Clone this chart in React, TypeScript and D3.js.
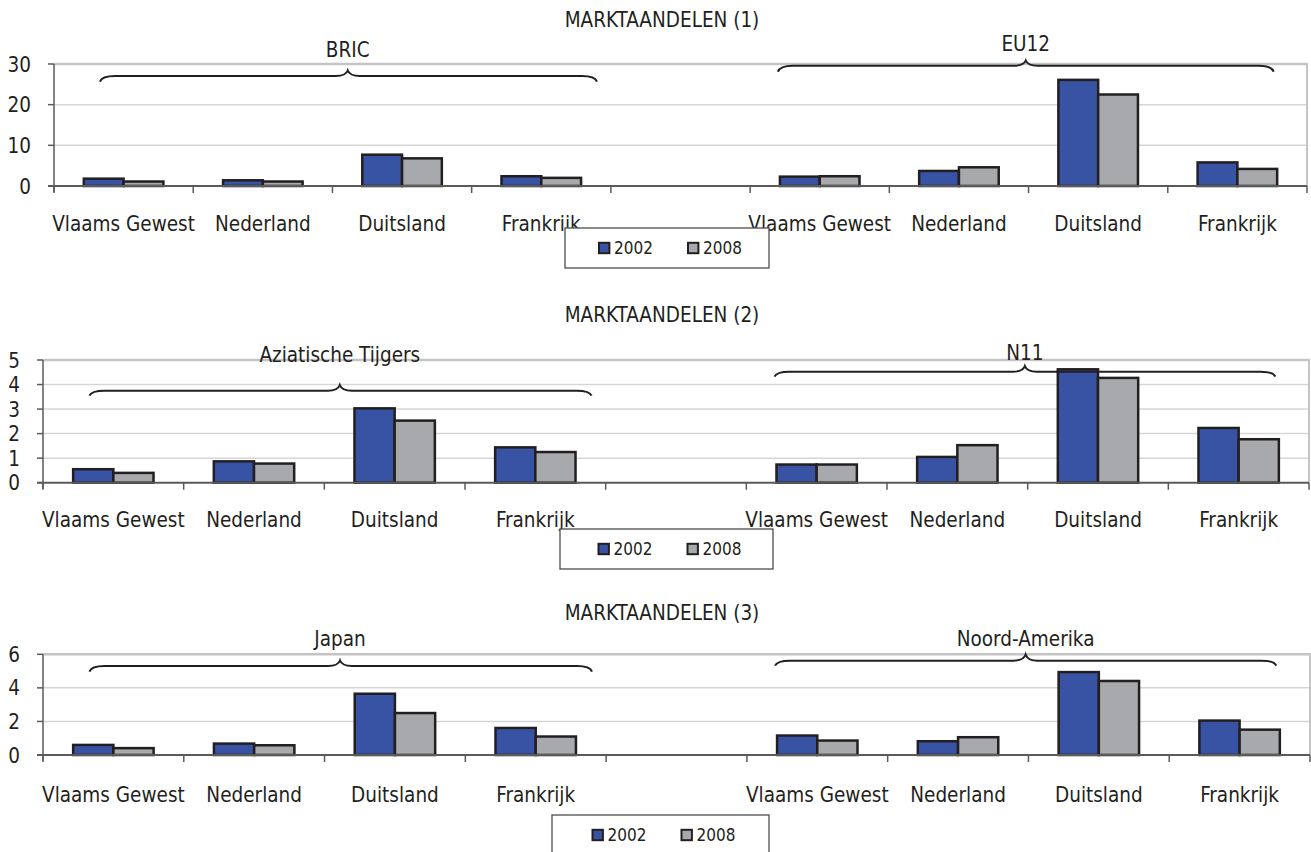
import React from "react";
import * as d3 from "d3";

// ---------- DATA ----------
const categories = ["Vlaams Gewest", "Nederland", "Duitsland", "Frankrijk"];
const seriesNames = ["2002", "2008"];
const chartTitles = ["MARKTAANDELEN (1)", "MARKTAANDELEN (2)", "MARKTAANDELEN (3)"];
const groupNames1 = ["BRIC", "EU12"];
const groupNames2 = ["Aziatische Tijgers", "N11"];
const groupNames3 = ["Japan", "Noord-Amerika"];

const bric2002 = [1.8, 1.4, 7.7, 2.4];
const bric2008 = [1.1, 1.1, 6.8, 2.0];
const eu12_2002 = [2.3, 3.7, 26.1, 5.8];
const eu12_2008 = [2.4, 4.6, 22.5, 4.2];

const tijgers2002 = [0.55, 0.87, 3.03, 1.44];
const tijgers2008 = [0.4, 0.78, 2.53, 1.25];
const n11_2002 = [0.74, 1.05, 4.62, 2.23];
const n11_2008 = [0.74, 1.53, 4.27, 1.77];

const japan2002 = [0.6, 0.68, 3.65, 1.61];
const japan2008 = [0.41, 0.58, 2.5, 1.1];
const noordam2002 = [1.16, 0.82, 4.94, 2.05];
const noordam2008 = [0.86, 1.06, 4.41, 1.51];

const yTicks1 = [0, 10, 20, 30];
const yTicks2 = [0, 1, 2, 3, 4, 5];
const yTicks3 = [0, 2, 4, 6];

// ---------- LAYOUT ----------
const FONT = "'DejaVu Sans Condensed', 'DejaVu Sans', sans-serif";
const TEXT = "#231f20";
const BLUE = "#3953a4";
const GREY = "#a7a9ac";
const colors = [BLUE, GREY];

type Layout = {
  left: number; right: number; top: number; bottom: number;
  titleY: number; labelY: number;
  legend: { x: number; y: number; w: number; h: number };
  braceL: { yEnd: number; yLine: number; yTip: number; textY: number };
  braceR: { yEnd: number; yLine: number; yTip: number; textY: number };
};

const layouts: Layout[] = [
  {
    left: 54, right: 1307, top: 64, bottom: 186, titleY: 27, labelY: 231,
    legend: { x: 565, y: 228, w: 204, h: 40 },
    braceL: { yEnd: 81.7, yLine: 76, yTip: 70.5, textY: 57 },
    braceR: { yEnd: 71.7, yLine: 65.7, yTip: 60.5, textY: 51 },
  },
  {
    left: 43, right: 1309, top: 360, bottom: 482.7, titleY: 322, labelY: 527,
    legend: { x: 560, y: 529, w: 213, h: 40 },
    braceL: { yEnd: 395.7, yLine: 390.7, yTip: 385, textY: 362 },
    braceR: { yEnd: 376.7, yLine: 371.7, yTip: 366, textY: 360 },
  },
  {
    left: 43, right: 1310, top: 654.3, bottom: 755, titleY: 620, labelY: 801.5,
    legend: { x: 552, y: 815, w: 217, h: 40 },
    braceL: { yEnd: 671.7, yLine: 666, yTip: 660.5, textY: 646 },
    braceR: { yEnd: 665.7, yLine: 660.7, yTip: 654.5, textY: 646 },
  },
];

const chartsData = [
  { title: chartTitles[0], groups: groupNames1, left: [bric2002, bric2008], right: [eu12_2002, eu12_2008], ticks: yTicks1 },
  { title: chartTitles[1], groups: groupNames2, left: [tijgers2002, tijgers2008], right: [n11_2002, n11_2008], ticks: yTicks2 },
  { title: chartTitles[2], groups: groupNames3, left: [japan2002, japan2008], right: [noordam2002, noordam2008], ticks: yTicks3 },
];

function bracePath(x0: number, x1: number, xt: number, yEnd: number, yLine: number, yTip: number) {
  const r = 15;
  const rt = 12;
  const p = d3.path();
  p.moveTo(x0, yEnd);
  p.quadraticCurveTo(x0 + 2, yLine, x0 + r, yLine);
  p.lineTo(xt - rt, yLine);
  p.quadraticCurveTo(xt - 2, yLine, xt, yTip);
  p.quadraticCurveTo(xt + 2, yLine, xt + rt, yLine);
  p.lineTo(x1 - r, yLine);
  p.quadraticCurveTo(x1 - 2, yLine, x1, yEnd);
  return p.toString();
}

function Chart({ d, L }: { d: typeof chartsData[0]; L: Layout }) {
  const slots = d3.range(9);
  const x = d3.scaleBand<number>().domain(slots).range([L.left, L.right]).paddingInner(0).paddingOuter(0);
  const step = x.step();
  const inner = d3.scaleBand<string>().domain(seriesNames).range([0, step]).paddingInner(0).paddingOuter(0.75);
  const yMax = d3.max(d.ticks) as number;
  const y = d3.scaleLinear().domain([0, yMax]).range([L.bottom, L.top]);
  const fs = 20.5;

  const bars: { slot: number; s: number; v: number }[] = [];
  categories.forEach((_, i) => {
    seriesNames.forEach((_, s) => {
      bars.push({ slot: i, s, v: d.left[s][i] });
      bars.push({ slot: i + 5, s, v: d.right[s][i] });
    });
  });

  const labelSlots = [0, 1, 2, 3, 5, 6, 7, 8];
  const catPos = (u: number) => L.left + u * step;
  const cx = L.legend.x + L.legend.w / 2;
  const ly = L.legend.y + 20;

  return (
    <g>
      <text x={662} y={L.titleY} textAnchor="middle" fontFamily={FONT} fontSize={fs} fill={TEXT}>{d.title}</text>
      {/* gridlines */}
      {d.ticks.filter((t) => t > 0 && t < yMax).map((t) => (
        <line key={t} x1={L.left} x2={L.right} y1={y(t)} y2={y(t)} stroke="#d6d6d6" strokeWidth={1.5} />
      ))}
      {/* plot border top/right */}
      <line x1={L.left} x2={L.right + 1} y1={L.top} y2={L.top} stroke="#c4c4c4" strokeWidth={2.5} />
      <line x1={L.right} x2={L.right} y1={L.top} y2={L.bottom} stroke="#c4c4c4" strokeWidth={2} />
      {/* y axis */}
      <line x1={L.left} x2={L.left} y1={L.top} y2={L.bottom + 6} stroke="#5a5a5a" strokeWidth={1.5} />
      {d.ticks.map((t) => (
        <g key={"t" + t}>
          <line x1={L.left - 6} x2={L.left} y1={y(t)} y2={y(t)} stroke="#5a5a5a" strokeWidth={1.5} />
          <text x={L.left - 23} y={y(t) + 7.5} textAnchor="end" fontFamily={FONT} fontSize={fs} fill={TEXT}>{t}</text>
        </g>
      ))}
      {/* bars */}
      {bars.map((b, i) => (
        <rect key={i} x={(x(b.slot) as number) + (inner(seriesNames[b.s]) as number)} y={y(b.v)}
          width={inner.bandwidth()} height={L.bottom - y(b.v)}
          fill={colors[b.s]} stroke="#231f20" strokeWidth={2.5} />
      ))}
      {/* baseline */}
      <line x1={L.left - 6} x2={L.right} y1={L.bottom} y2={L.bottom} stroke="#5a5a5a" strokeWidth={2} />
      {d3.range(10).map((i) => (
        <line key={"c" + i} x1={L.left + i * step} x2={L.left + i * step} y1={L.bottom} y2={L.bottom + 7} stroke="#5a5a5a" strokeWidth={1.5} />
      ))}
      {/* braces */}
      <path d={bracePath(catPos(0.33), catPos(3.9), catPos(2.11), L.braceL.yEnd, L.braceL.yLine, L.braceL.yTip)} fill="none" stroke="#231f20" strokeWidth={2} />
      <path d={bracePath(catPos(5.2), catPos(8.76), catPos(6.98), L.braceR.yEnd, L.braceR.yLine, L.braceR.yTip)} fill="none" stroke="#231f20" strokeWidth={2} />
      <text x={catPos(2.11)} y={L.braceL.textY} textAnchor="middle" fontFamily={FONT} fontSize={fs} fill={TEXT}>{d.groups[0]}</text>
      <text x={catPos(6.98)} y={L.braceR.textY} textAnchor="middle" fontFamily={FONT} fontSize={fs} fill={TEXT}>{d.groups[1]}</text>
      {/* category labels */}
      {labelSlots.map((s, i) => (
        <text key={"l" + i} x={(x(s) as number) + step / 2} y={L.labelY} textAnchor="middle" fontFamily={FONT} fontSize={fs} fill={TEXT}>
          {categories[i % 4]}
        </text>
      ))}
      {/* legend */}
      <rect x={L.legend.x} y={L.legend.y} width={L.legend.w} height={L.legend.h} fill="#fff" stroke="#4d4d4d" strokeWidth={1.3} />
      {seriesNames.map((n, s) => {
        const sx = cx - 68 + s * 89;
        return (
          <g key={n}>
            <rect x={sx} y={ly - 5.2} width={10.4} height={10.4} fill={colors[s]} stroke="#231f20" strokeWidth={2} />
            <text x={sx + 15} y={ly + 6.2} fontFamily={FONT} fontSize={17} fill={TEXT}>{n}</text>
          </g>
        );
      })}
    </g>
  );
}

export default function App() {
  return (
    <svg width={1311} height={852} style={{ position: "absolute", left: 0, top: 0, background: "#fff" }}>
      <rect width={1311} height={852} fill="#fff" />
      {chartsData.map((d, i) => (
        <Chart key={i} d={d} L={layouts[i]} />
      ))}
    </svg>
  );
}
